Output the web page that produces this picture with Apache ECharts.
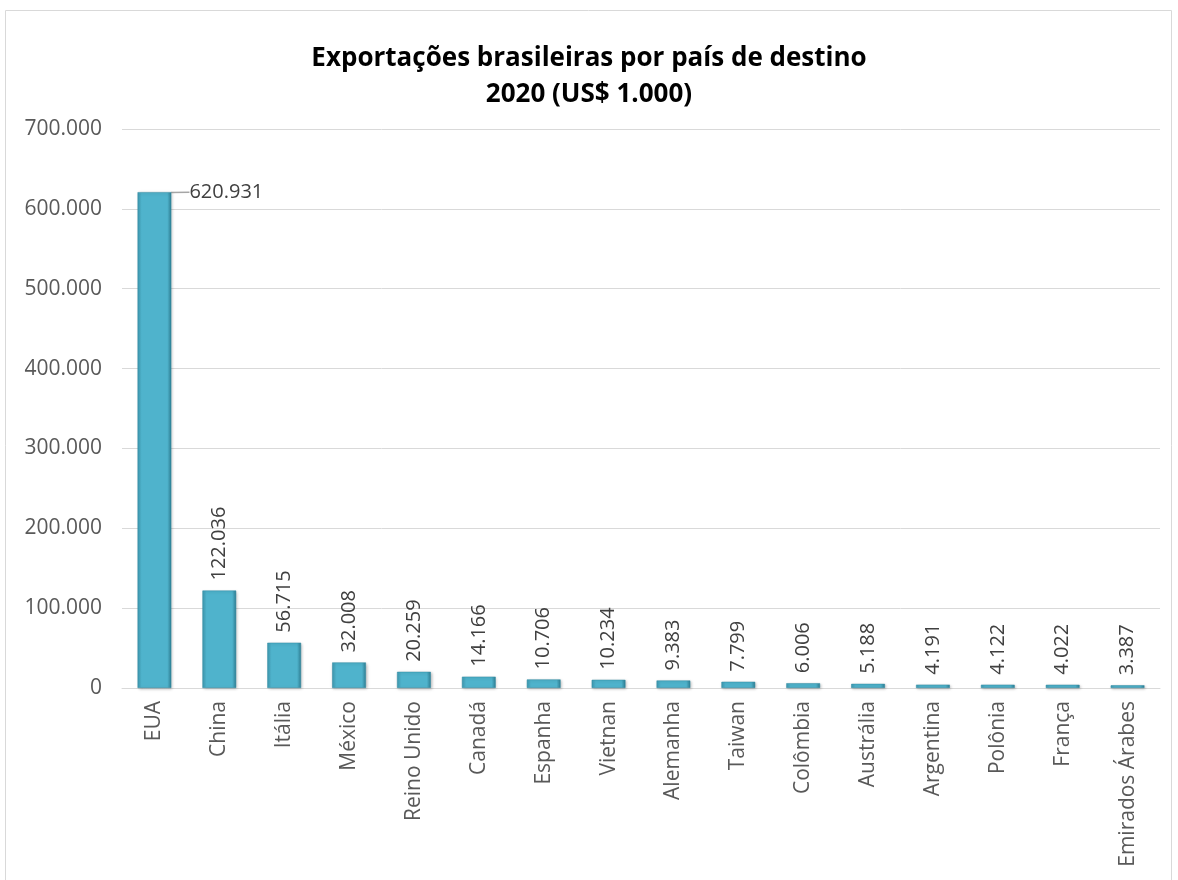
<!DOCTYPE html>
<html>
<head>
<meta charset="utf-8">
<script src="https://cdn.jsdelivr.net/npm/echarts@6/dist/echarts.min.js"></script>
<style>
  html, body { margin: 0; padding: 0; background: #fff; }
  #chart { width: 1178px; height: 880px; }
</style>
</head>
<body>
<div id="chart"></div>
<script>
// categorias (países de destino)
const paises = ['EUA', 'China', 'Itália', 'México', 'Reino Unido', 'Canadá', 'Espanha', 'Vietnan',
  'Alemanha', 'Taiwan', 'Colômbia', 'Austrália', 'Argentina', 'Polônia', 'França', 'Emirados Árabes'];
// valores em US$ 1.000
const valores = [620931, 122036, 56715, 32008, 20259, 14166, 10706, 10234,
  9383, 7799, 6006, 5188, 4191, 4122, 4022, 3387];
// eixo Y
const yTicks = [0, 100000, 200000, 300000, 400000, 500000, 600000, 700000];

const fonte = '"Open Sans", "Noto Sans", sans-serif';

// formato pt-BR (ponto como separador de milhar)
function fmt(v) {
  return String(v).replace(/\B(?=(\d{3})+(?!\d))/g, '.');
}

const chart = echarts.init(document.getElementById('chart'));

const barColor = new echarts.graphic.LinearGradient(0, 0, 1, 0, [
  { offset: 0, color: '#3f9bb3' },
  { offset: 0.12, color: '#4fb3cc' },
  { offset: 0.88, color: '#4fb3cc' },
  { offset: 1, color: '#2f7f94' }
]);

const option = {
  animation: false,
  textStyle: { fontFamily: fonte },
  title: {
    text: 'Exportações brasileiras por país de destino\n2020 (US$ 1.000)',
    left: 'center',
    top: 36,
    textStyle: { fontSize: 26, fontWeight: 'bold', color: '#000', lineHeight: 36, fontFamily: fonte }
  },
  graphic: [{
    type: 'rect',
    shape: { x: 5.5, y: 10.5, width: 1166, height: 880 },
    style: { fill: 'none', stroke: '#d9d9d9', lineWidth: 1 },
    silent: true
  }],
  grid: { left: 122, right: 18, top: 129, bottom: 192 },
  xAxis: {
    type: 'category',
    data: paises,
    axisLine: { lineStyle: { color: '#d9d9d9', width: 1 } },
    axisTick: { show: false },
    axisLabel: { rotate: 90, fontSize: 21, color: '#595959', margin: 13, interval: 0 }
  },
  yAxis: {
    type: 'value',
    min: yTicks[0],
    max: yTicks[yTicks.length - 1],
    interval: 100000,
    axisLine: { show: false },
    axisTick: { show: false },
    splitLine: { lineStyle: { color: '#d9d9d9', width: 1 } },
    axisLabel: { fontSize: 21, color: '#595959', margin: 20, formatter: v => fmt(v) }
  },
  series: [{
    type: 'bar',
    barWidth: '52%',
    data: valores.map((v, i) => i === 0 ? {
      value: v,
      label: { rotate: 0, position: 'top', align: 'left', verticalAlign: 'middle', distance: 0 },
      labelLine: { show: true }
    } : v),
    itemStyle: {
      color: barColor,
      borderColor: '#2e8aa3',
      borderWidth: 0.5,
      shadowColor: 'rgba(0,0,0,0.25)',
      shadowBlur: 3,
      shadowOffsetX: 1,
      shadowOffsetY: 1
    },
    label: {
      show: true,
      position: 'top',
      rotate: 90,
      align: 'left',
      verticalAlign: 'middle',
      distance: 10,
      fontSize: 20,
      color: '#404040',
      formatter: p => fmt(p.value)
    },
    labelLine: { show: false, lineStyle: { color: '#a6a6a6', width: 1.5 } },
    labelLayout: p => p.dataIndex === 0 ? { dx: 35, dy: 0 } : {}
  }]
};

chart.setOption(option);
</script>
</body>
</html>
